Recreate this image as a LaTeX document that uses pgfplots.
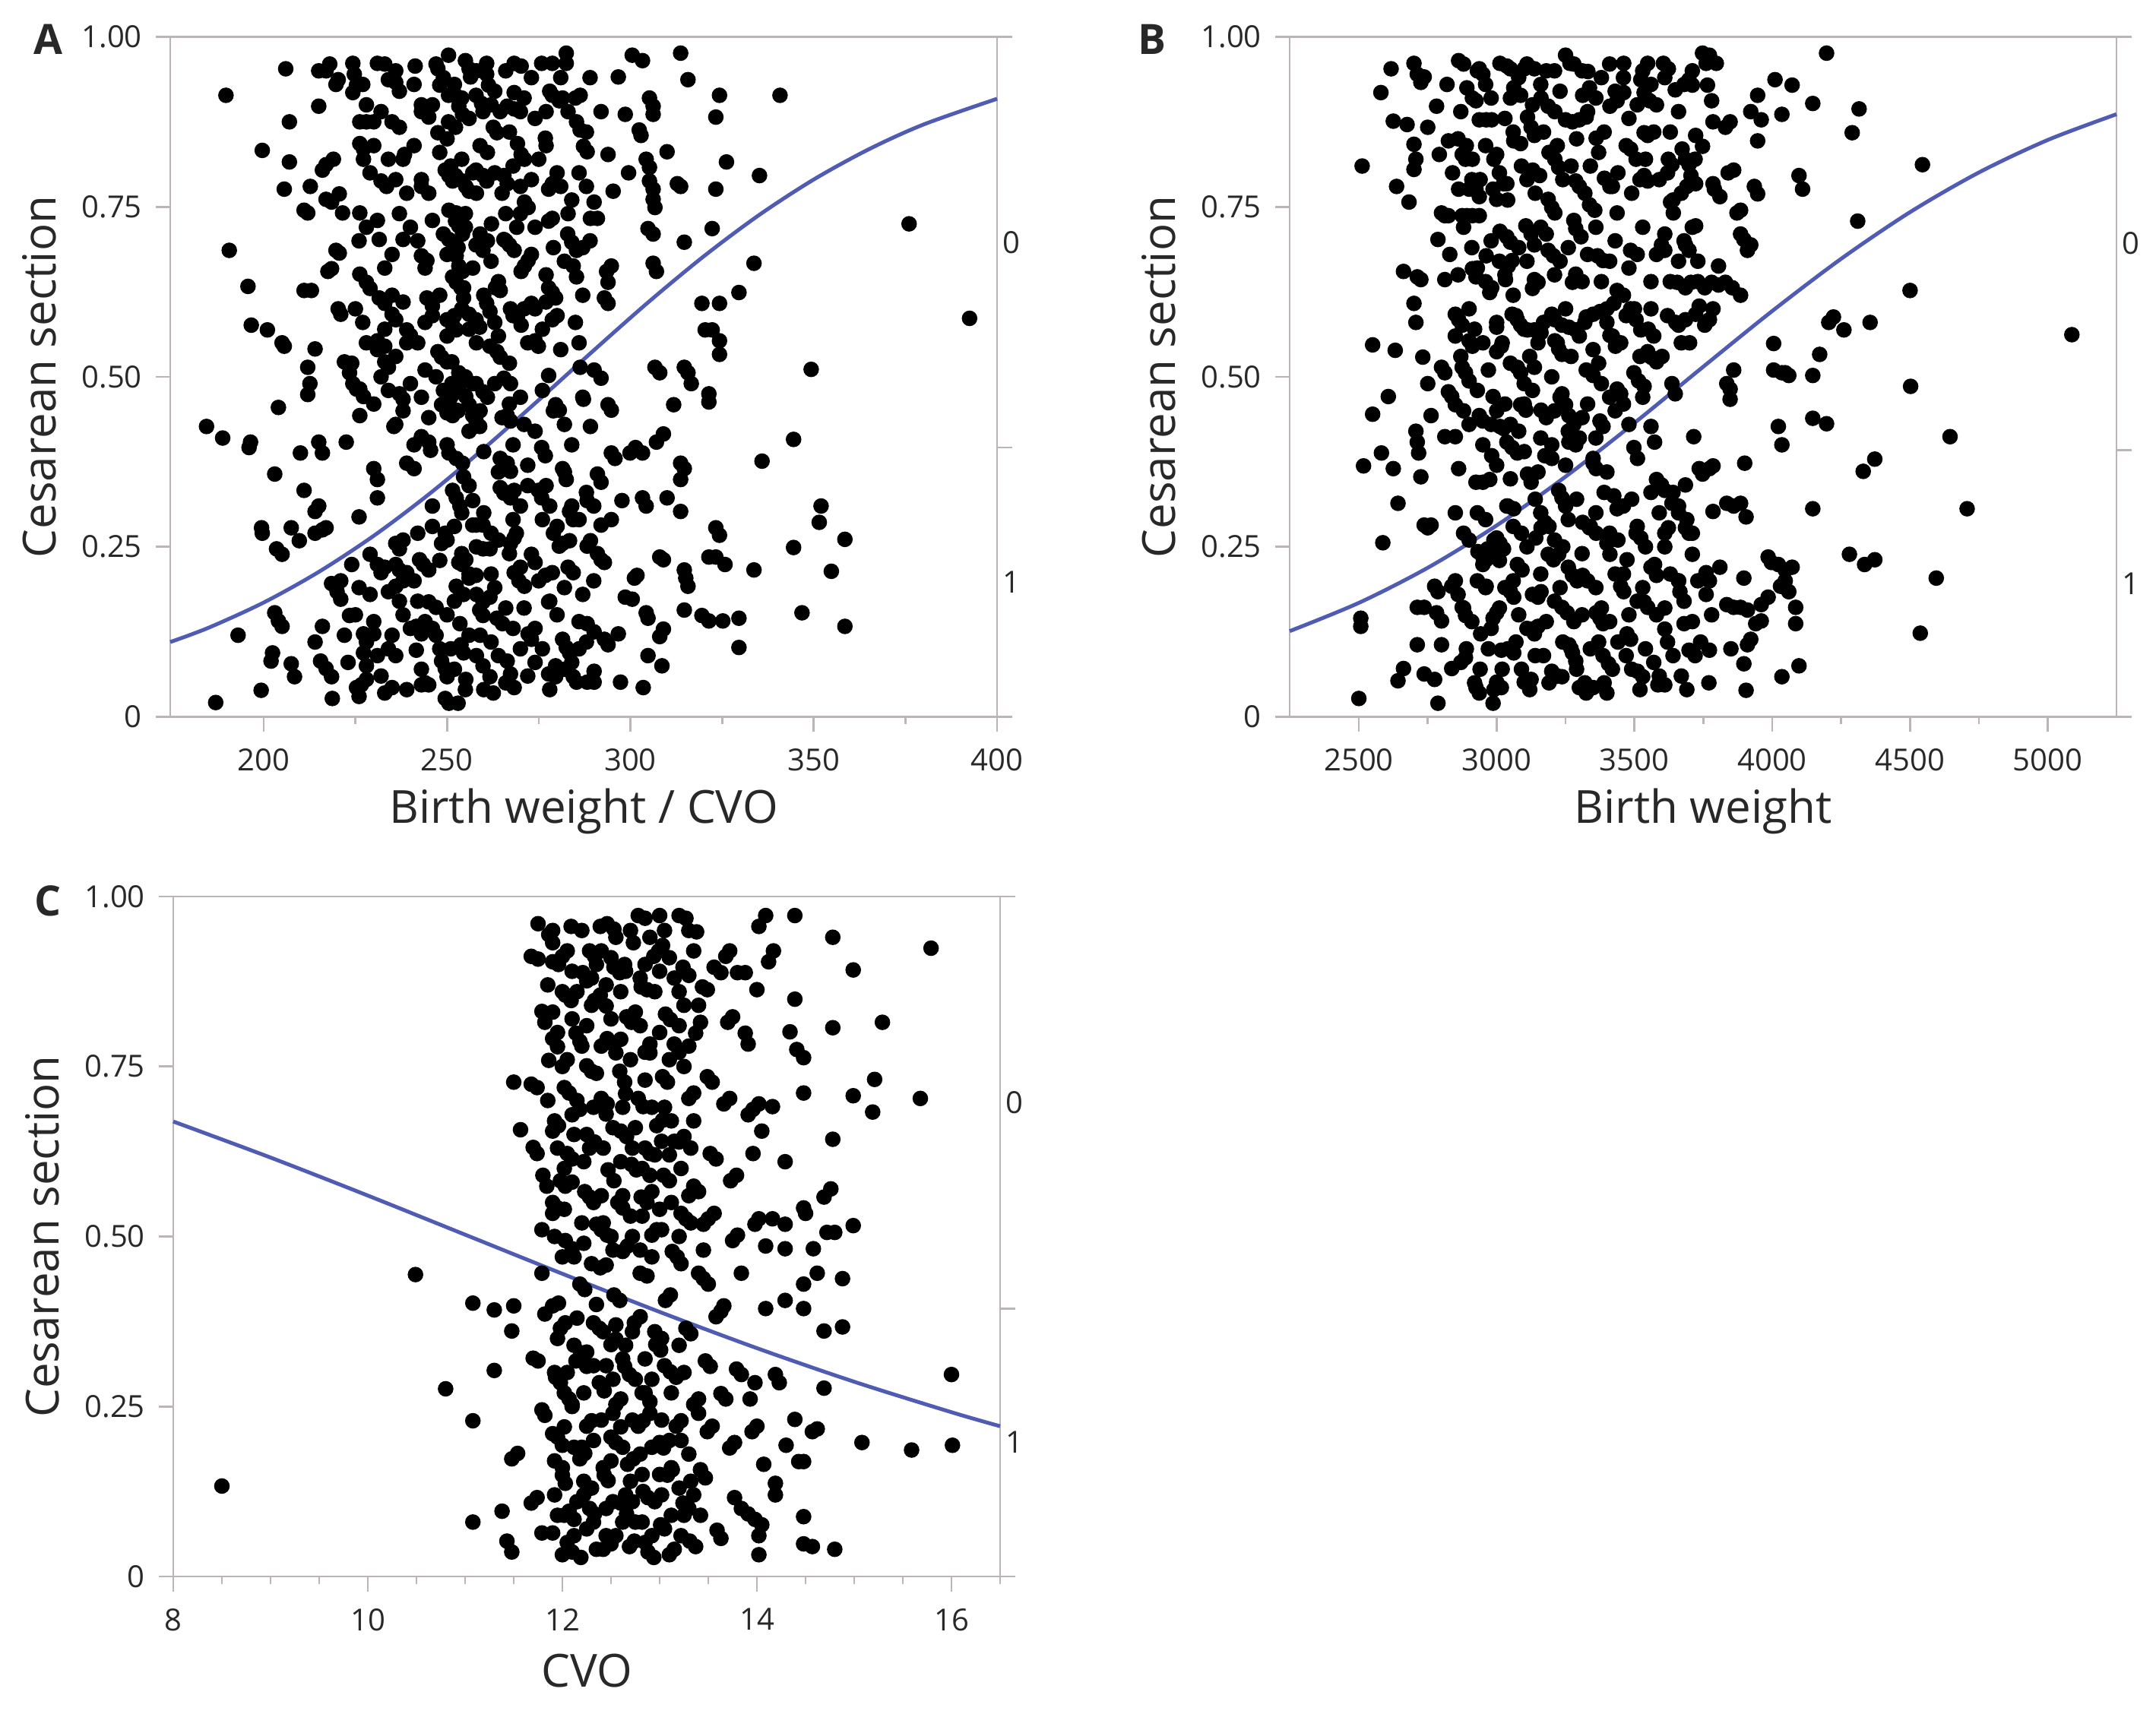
\documentclass[border=0pt]{standalone}
\usepackage{fontspec}
\setmainfont{Open Sans}
\usepackage{pgfplots}
\pgfplotsset{compat=1.18}
\definecolor{axgray}{RGB}{188,181,181}
\definecolor{fitblue}{RGB}{80,92,180}
\definecolor{txt}{RGB}{40,40,40}
\pgfplotsset{
 jmp/.style={
  scale only axis, width=217.6pt, height=179pt,
  anchor=north west,
  ymin=0, ymax=1,
  ytick={0,0.25,0.5,0.75,1}, yticklabels={0,0.25,0.50,0.75,1.00},
  axis line style={draw=axgray, line width=0.55pt},
  every tick/.style={draw=axgray, line width=0.55pt},
  major tick length=3.9pt, minor tick length=1.9pt,
  tick align=outside, xtick pos=bottom, ytick pos=left,
  tick label style={font=\fontsize{8}{9}\selectfont, text=txt},
  xticklabel style={yshift=-1pt},
  scaled x ticks=false,
  ylabel={Cesarean section},
  every axis y label/.style={at={(axis description cs:0,0.5)}, anchor=center, xshift=-34.5pt, rotate=90, font=\fontsize{12}{14}\selectfont, text=txt},
  every axis x label/.style={at={(axis description cs:0.5,0)}, anchor=center, yshift=-24.8pt, font=\fontsize{12}{14}\selectfont, text=txt},
  clip=false,
 },
 dots/.style={only marks, mark=*, mark size=1.85pt, mark options={fill=black, draw=none}},
 fit/.style={no marks, draw=fitblue, line width=1pt, smooth},
}
\newcommand{\rightcat}[1]{%
  \draw[axgray, line width=0.55pt] (rel axis cs:1,0) -- ([xshift=3.9pt]rel axis cs:1,0);
  \draw[axgray, line width=0.55pt] (rel axis cs:1,#1) -- ([xshift=3.9pt]rel axis cs:1,#1);
  \draw[axgray, line width=0.55pt] (rel axis cs:1,1) -- ([xshift=3.9pt]rel axis cs:1,1);
}
\begin{document}
\begin{tikzpicture}
\path[use as bounding box] (0,0) rectangle (567.4pt,-451.2pt);
\node[font=\bfseries\fontsize{11}{13}\selectfont, text=txt] at (12.6pt,-10.4pt) {A};
\node[font=\bfseries\fontsize{11}{13}\selectfont, text=txt] at (303.2pt,-10.4pt) {B};
\node[font=\bfseries\fontsize{11}{13}\selectfont, text=txt] at (12.6pt,-237.2pt) {C};

% ---------------- Panel A ----------------
\begin{axis}[jmp, at={(44.8pt,-9.7pt)}, xmin=174.5, xmax=400,
  xtick={200,250,300,350,400}, xticklabels={200,250,300,350,400},
  minor xtick={225,275,325,375}, xlabel={Birth weight / CVO}]
\addplot[dots] coordinates {
(186.9,0.021)(184.4,0.427)(188.8,0.41)(189.7,0.914)(190.6,0.686)(193,0.12)(195.7,0.633)(196.6,0.576)(196,0.396)(196.4,0.404)(199.6,0.833)(199.4,0.278)(199.6,0.27)(199.3,0.039)(201,0.569)(202,0.082)(202.4,0.094)(203,0.357)(204,0.455)(203.5,0.247)(205,0.239)(205,0.55)(205.6,0.545)(205.6,0.776)(206,0.953)(207,0.875)(207,0.816)(207.5,0.278)(207.5,0.078)(208.4,0.059)(203,0.153)(204,0.141)(205,0.133)(209.7,0.259)(210,0.388)(211,0.745)(212,0.741)(211,0.333)(211,0.627)(213,0.627)(212,0.514)(212.6,0.49)(212,0.474)(212.7,0.78)(214,0.27)(216,0.275)(217,0.278)(214,0.302)(215,0.31)(214,0.541)(214,0.11)(215,0.404)(216,0.388)(215,0.95)(217,0.95)(218,0.96)(216,0.133)(215.5,0.082)(217,0.071)(218.5,0.059)(217.5,0.655)(218.5,0.659)(215,0.898)(216,0.804)(217,0.812)(219,0.82)(217,0.761)(218.5,0.757)(218.5,0.196)(220,0.184)(221,0.173)(218.7,0.027)(219.7,0.93)(220.3,0.937)(220.3,0.6)(221,0.592)(219.7,0.686)(220.6,0.682)(220.6,0.769)(221.5,0.741)(222,0.522)(222.5,0.404)(223.4,0.506)(224.3,0.49)(225.3,0.482)(223.4,0.149)(224,0.224)(224.3,0.961)(224.7,0.945)(225.3,0.929)(224.3,0.918)(225.3,0.043)(226.6,0.047)(228,0.055)(226,0.294)(226.2,0.875)(228,0.875)(230,0.875)(226.2,0.843)(227.2,0.835)(227.2,0.82)(226.2,0.741)(226.2,0.651)(228,0.639)(226.2,0.482)(227.2,0.471)(226.2,0.443)(227.2,0.122)(227.2,0.094)(228,0.075)(229,0.239)(231,0.224)(232,0.212)(230,0.365)(231,0.349)(231,0.322)(230,0.122)(231,0.961)(231,0.553)(233,0.545)(231.5,0.616)(233,0.608)(232,0.788)(233.5,0.78)(231.5,0.702)(233,0.522)(234,0.514)(233,0.035)(235,0.043)(234,0.184)(236,0.192)(238,0.2)(234,0.937)(236,0.933)(235,0.875)(237,0.867)(235,0.592)(236,0.584)(235.5,0.427)(236,0.255)(237,0.247)(236,0.224)(237,0.216)(239,0.212)(237,0.475)(238,0.467)(238,0.82)(238.4,0.827)(238,0.702)(239,0.569)(240,0.561)(239,0.373)(241,0.365)(241.3,0.957)(241.6,0.133)(243,0.122)(241.6,0.098)(242.5,0.231)(243.5,0.224)(245,0.216)(243,0.678)(244.5,0.671)(243,0.89)(245,0.882)(243,0.78)(243,0.412)(245,0.404)(245.5,0.392)(243,0.047)(245,0.047)(244.5,0.616)(246,0.604)(245,0.169)(247,0.161)(247.5,0.953)(248,0.929)(247.5,0.859)(247.5,0.537)(248.5,0.529)(250,0.522)(248.5,0.459)(250,0.447)(248.5,0.255)(249.5,0.27)(248.5,0.082)(249.5,0.071)(250,0.059)(249.5,0.027)(250.5,0.02)(253,0.02)(249.5,0.804)(250.5,0.796)(251.5,0.788)(250.5,0.745)(252.5,0.741)(253.5,0.737)(250.5,0.702)(252.5,0.694)(252.5,0.678)(251.5,0.647)(252.5,0.639)(254.5,0.631)(250.5,0.388)(252.5,0.38)(251.5,0.333)(252.5,0.322)(253.5,0.31)(252.5,0.192)(254.5,0.18)(253.5,0.137)(250,0.584)(251.5,0.576)(252.5,0.569)(250,0.451)(251.5,0.443)(252.5,0.451)(250.4,0.973)(255,0.965)(250.4,0.914)(252.3,0.914)(253.2,0.898)(254.2,0.886)(250.4,0.875)(252.3,0.867)(251.3,0.522)(253.2,0.506)(251.3,0.49)(253.2,0.482)(255.1,0.471)(256,0.459)(252.3,0.796)(254.2,0.788)(255.1,0.78)(256,0.773)(252.3,0.729)(253.2,0.722)(254.2,0.71)(253.2,0.663)(254.2,0.655)(253.8,0.631)(254.5,0.616)(253.2,0.227)(254.2,0.224)(255.1,0.231)(253.8,0.106)(254.5,0.094)(254.2,0.373)(254.5,0.353)(255.1,0.055)(256,0.953)(256.4,0.941)(256,0.592)(257.9,0.584)(258.9,0.573)(256,0.204)(257.9,0.208)(257,0.443)(257.9,0.435)(258.9,0.427)(257,0.318)(257,0.282)(257.9,0.282)(259.8,0.282)(257.9,0.914)(259.4,0.902)(259.8,0.89)(257.9,0.804)(259.8,0.796)(260.8,0.788)(257.9,0.694)(259.8,0.686)(257.9,0.49)(259.8,0.478)(258.9,0.157)(259.8,0.149)(259.8,0.247)(261.7,0.247)(259.8,0.075)(261.7,0.059)(259.8,0.169)(261.7,0.176)(260.8,0.961)(260.8,0.945)(261.3,0.929)(260.8,0.608)(261.7,0.596)(261.7,0.545)(263.6,0.537)(264.5,0.529)(262.1,0.725)(262.6,0.867)(263.6,0.859)(262.6,0.035)(263.2,0.631)(264.5,0.627)(263.6,0.145)(265.1,0.137)(264.5,0.89)(266.4,0.898)(268.3,0.894)(268.3,0.918)(264.5,0.38)(266.4,0.373)(267.3,0.361)(264.5,0.337)(265.5,0.329)(267.3,0.322)(268.3,0.333)(265.5,0.498)(267.3,0.49)(265.5,0.796)(266.4,0.784)(265.5,0.702)(267,0.694)(268.3,0.686)(266.4,0.443)(267.3,0.435)(266.4,0.082)(267.3,0.063)(268.3,0.043)(267.3,0.255)(268.3,0.263)(268.9,0.27)(267.3,0.6)(269.2,0.588)(270.2,0.576)(268.3,0.961)(270.2,0.957)(268.3,0.212)(269.6,0.2)(271.1,0.192)(269.2,0.843)(270.2,0.827)(271.1,0.82)(270.2,0.655)(271.1,0.663)(272.1,0.671)(271.1,0.757)(272.1,0.749)(272.1,0.122)(273,0.114)(273,0.608)(274,0.6)(273,0.239)(274,0.227)(274,0.553)(274.9,0.545)(274.9,0.333)(275.8,0.322)(275.8,0.961)(278.7,0.961)(275.8,0.396)(276.8,0.384)(276.8,0.208)(278.7,0.212)(276.8,0.851)(277.7,0.169)(277.7,0.063)(279.6,0.059)(279.6,0.075)(277.7,0.729)(278.7,0.733)(277.7,0.631)(278.7,0.624)(279.6,0.616)(277.7,0.502)(278.7,0.914)(280.6,0.906)(281.5,0.91)(278.7,0.784)(277.7,0.776)(278.7,0.584)(279.6,0.459)(280.6,0.451)(280.6,0.251)(281.5,0.255)(283.4,0.259)(281.5,0.365)(282.5,0.349)(281.5,0.114)(282.5,0.102)(283.4,0.094)(282.5,0.976)(282.5,0.961)(282.9,0.71)(284,0.698)(285.3,0.686)(283.4,0.302)(284.4,0.29)(284.4,0.663)(285.3,0.647)(284.4,0.059)(285.3,0.051)(288.2,0.051)(284.4,0.212)(285.3,0.875)(286.3,0.863)(286.3,0.914)(286.3,0.514)(287.2,0.839)(288.2,0.831)(287.2,0.467)(288.2,0.251)(289.1,0.259)(288.2,0.318)(288.2,0.137)(290.1,0.125)(289.1,0.427)(289.1,0.733)(290.1,0.757)(291,0.733)(290.1,0.51)(292,0.498)(290.1,0.067)(290.1,0.051)(291,0.357)(292,0.345)(292,0.89)(292,0.231)(292.9,0.227)(292,0.282)(292.9,0.616)(293.9,0.608)(293.5,0.655)(294.8,0.663)(293.9,0.639)(292.9,0.114)(293.9,0.106)(293.9,0.827)(293.9,0.459)(294.8,0.451)(294.8,0.388)(295.8,0.38)(294.8,0.29)(295.3,0.773)(296.7,0.941)(296.7,0.122)(297.3,0.051)(297.7,0.318)(298.6,0.886)(298.6,0.176)(300.5,0.173)(299.5,0.8)(299.9,0.388)(301.4,0.396)(303.3,0.388)(300.5,0.973)(303.3,0.965)(301.1,0.204)(301.8,0.208)(302.4,0.863)(302.9,0.855)(303.5,0.043)(303.3,0.322)(304.3,0.31)(304.3,0.153)(304.8,0.145)(304.3,0.82)(305.2,0.808)(304.8,0.09)(304.8,0.718)(306.2,0.71)(305.2,0.91)(306.2,0.898)(306.2,0.886)(305.2,0.788)(306.2,0.776)(306.2,0.761)(306.7,0.749)(306.2,0.667)(307.1,0.655)(306.7,0.514)(308,0.506)(307.1,0.404)(309,0.416)(308,0.118)(309,0.129)(308.6,0.075)(308,0.235)(309,0.231)(310,0.831)(310,0.322)(311.8,0.459)(312.8,0.784)(313.7,0.78)(313.7,0.976)(314.7,0.698)(314.7,0.514)(315.7,0.506)(313.7,0.373)(314.7,0.365)(313.7,0.349)(313.7,0.302)(314.7,0.216)(315.1,0.204)(315.7,0.192)(314.7,0.157)(315.7,0.937)(316.6,0.49)(319.5,0.608)(319.5,0.149)(321.4,0.141)(320.4,0.569)(322.3,0.569)(321.4,0.475)(321.4,0.463)(321.4,0.235)(323.3,0.235)(322.3,0.718)(323.3,0.776)(323.3,0.882)(324.3,0.914)(323.3,0.278)(324.3,0.267)(324.3,0.608)(324.3,0.553)(324.3,0.533)(325.2,0.141)(325.8,0.224)(326.2,0.816)(329.6,0.145)(329.6,0.102)(329.6,0.624)(333.7,0.216)(333.7,0.667)(335.2,0.796)(335.9,0.376)(340.8,0.914)(344.5,0.408)(344.5,0.249)(346.8,0.153)(349.3,0.511)(351.5,0.286)(352,0.31)(354.8,0.214)(358.5,0.261)(358.5,0.133)(376,0.725)(392.5,0.586)
(228,0.90)(233,0.96)(237,0.92)(243,0.90)(247,0.96)(252,0.93)(256,0.88)(259,0.84)(262,0.90)(267,0.86)(271,0.91)(274,0.88)(278,0.92)(283,0.89)(288,0.86)
(229,0.80)(234,0.82)(239,0.77)(243,0.79)(248,0.83)(251,0.81)(255,0.74)(258,0.77)(263,0.80)(266,0.74)(270,0.78)(275,0.82)(281,0.78)(286,0.80)(289,0.70)
(226,0.70)(231,0.73)(235,0.68)(240,0.72)(244,0.66)(249,0.71)(253,0.69)(257,0.66)(261,0.70)(264,0.64)(269,0.72)(273,0.68)(277,0.65)(282,0.67)(287,0.62)
(225,0.60)(229,0.63)(233,0.57)(238,0.61)(242,0.55)(246,0.59)(250,0.56)(254,0.60)(258,0.55)(263,0.58)(267,0.52)(271,0.60)(276,0.57)(281,0.54)(285,0.58)
(224,0.52)(228,0.55)(232,0.50)(236,0.53)(240,0.49)(244,0.51)(249,0.48)(253,0.45)(257,0.49)(261,0.47)(265,0.44)(270,0.47)(274,0.42)(279,0.45)(284,0.40)
(236,0.43)(241,0.40)(245,0.44)(250,0.40)(256,0.42)(260,0.39)(264,0.36)(268,0.40)(272,0.37)(277,0.34)(282,0.36)(288,0.33)
(221,0.20)(225,0.15)(229,0.18)(233,0.22)(237,0.17)(241,0.20)(244,0.14)(248,0.23)(252,0.17)(256,0.21)(259,0.12)(263,0.19)(267,0.24)(271,0.16)(275,0.20)(279,0.27)(283,0.22)(287,0.18)(291,0.24)
(223,0.08)(228,0.11)(232,0.06)(236,0.09)(240,0.13)(244,0.05)(248,0.10)(252,0.07)(256,0.12)(260,0.04)(264,0.09)(268,0.13)(272,0.06)(276,0.10)(280,0.15)(284,0.08)(288,0.11)
(238,0.26)(246,0.28)(254,0.30)(262,0.27)(270,0.31)(276,0.29)(284,0.31)(266,0.33)(258,0.25)(250,0.26)
(227,0.93)(232,0.89)(236,0.95)(241,0.93)(246,0.90)(249,0.94)(254,0.91)(258,0.95)(263,0.92)(266,0.95)(270,0.89)(273,0.94)(277,0.89)(281,0.94)(285,0.91)(289,0.94)
(230,0.84)(236,0.79)(241,0.84)(245,0.77)(250,0.85)(254,0.82)(257,0.80)(261,0.83)(265,0.77)(268,0.81)(273,0.79)(277,0.84)(280,0.80)(284,0.76)(288,0.78)
(228,0.72)(233,0.66)(237,0.74)(242,0.70)(246,0.73)(250,0.68)(255,0.72)(259,0.71)(262,0.67)(266,0.70)(270,0.74)(274,0.72)(279,0.69)(283,0.74)(287,0.69)
(227,0.58)(231,0.54)(235,0.62)(239,0.55)(244,0.58)(248,0.62)(252,0.59)(256,0.57)(260,0.62)(264,0.56)(268,0.59)(272,0.55)(277,0.61)(280,0.59)(286,0.55)
(230,0.46)(234,0.48)(238,0.45)(243,0.47)(247,0.50)(251,0.47)(255,0.50)(259,0.45)(263,0.49)(267,0.46)(271,0.43)(276,0.48)(282,0.43)(287,0.47)
(222,0.12)(226,0.19)(230,0.14)(234,0.10)(238,0.15)(242,0.17)(246,0.13)(250,0.15)(254,0.24)(258,0.18)(262,0.21)(266,0.16)(270,0.22)(274,0.13)(278,0.17)(282,0.19)(286,0.14)(290,0.20)
(226,0.03)(231,0.09)(235,0.12)(239,0.04)(243,0.07)(247,0.12)(251,0.10)(255,0.04)(258,0.09)(262,0.11)(266,0.05)(270,0.10)(274,0.08)(278,0.04)(282,0.07)(286,0.10)
(242,0.27)(246,0.31)(252,0.28)(256,0.34)(260,0.30)(264,0.26)(268,0.29)(272,0.34)(278,0.31)(280,0.28)(286,0.29)(290,0.31)
};
\addplot[fit] coordinates {
(174.5,0.110)(185,0.1311)(200,0.1681)(215,0.2131)(230,0.2662)(245,0.3271)(260,0.3944)(275,0.4659)(290,0.5389)(305,0.6103)(320,0.6772)(335,0.7376)(350,0.7902)(365,0.8346)(380,0.8712)(400,0.9089)
};
\rightcat{0.396}
\node[anchor=west, inner sep=0pt, font=\fontsize{8}{9}\selectfont, text=txt] at ([xshift=1.2pt]rel axis cs:1,0.698) {0};
\node[anchor=west, inner sep=0pt, font=\fontsize{8}{9}\selectfont, text=txt] at ([xshift=1.2pt]rel axis cs:1,0.198) {1};
\end{axis}

% ---------------- Panel B ----------------
\begin{axis}[jmp, at={(339.4pt,-9.7pt)}, xmin=2249, xmax=5249,
  xtick={2500,3000,3500,4000,4500,5000}, xticklabels={2500,3000,3500,4000,4500,5000},
  minor xtick={2750,3250,3750,4250,4750}, xlabel={Birth weight}]
\addplot[dots] coordinates {
(2500,0.027)(2507,0.145)(2507,0.133)(2512,0.81)(2517,0.369)(2550,0.547)(2550,0.445)(2580,0.918)(2587,0.256)(2582,0.388)(2607,0.471)(2617,0.953)(2625,0.876)(2625,0.365)(2632,0.539)(2637,0.78)(2642,0.314)(2642,0.053)(2662,0.655)(2662,0.071)(2675,0.871)(2682,0.757)(2700,0.961)(2712,0.945)(2700,0.842)(2707,0.82)(2700,0.608)(2707,0.58)(2700,0.805)(2707,0.42)(2712,0.404)(2717,0.388)(2712,0.106)(2712,0.161)(2737,0.161)(2712,0.647)(2725,0.643)(2725,0.933)(2737,0.941)(2725,0.353)(2732,0.529)(2737,0.282)(2750,0.278)(2762,0.282)(2737,0.063)(2750,0.867)(2750,0.49)(2762,0.443)(2775,0.192)(2787,0.184)(2775,0.055)(2782,0.898)(2782,0.153)(2800,0.141)(2787,0.702)(2787,0.02)(2792,0.827)(2800,0.741)(2812,0.737)(2825,0.737)(2800,0.514)(2812,0.506)(2800,0.106)(2812,0.643)(2812,0.412)(2825,0.847)(2825,0.478)(2837,0.471)(2850,0.459)(2837,0.192)(2850,0.2)(2837,0.071)(2850,0.592)(2862,0.584)(2875,0.576)(2850,0.412)(2862,0.965)(2862,0.776)(2862,0.365)(2875,0.737)(2892,0.737)(2912,0.737)(2937,0.737)(2875,0.827)(2887,0.82)(2912,0.82)(2875,0.161)(2887,0.149)(2875,0.514)(2887,0.506)(2900,0.494)(2887,0.087)(2892,0.925)(2912,0.91)(2925,0.906)(2900,0.776)(2925,0.776)(2937,0.765)(2900,0.553)(2912,0.545)(2912,0.659)(2925,0.647)(2925,0.345)(2950,0.345)(2975,0.349)(2925,0.043)(2937,0.035)(2932,0.243)(2950,0.235)(2967,0.247)(2937,0.953)(2950,0.945)(2937,0.878)(2962,0.878)(2982,0.878)(2937,0.443)(2950,0.435)(2942,0.122)(2950,0.224)(2962,0.231)(2975,0.239)(2987,0.247)(2962,0.678)(2962,0.192)(2975,0.624)(2982,0.631)(2982,0.384)(2987,0.776)(3000,0.761)(2987,0.471)(2987,0.145)(3000,0.153)(2987,0.02)(3000,0.573)(3000,0.537)(3017,0.545)(3000,0.827)(3000,0.263)(3012,0.255)(3025,0.247)(3000,0.051)(3017,0.043)(3012,0.961)(3037,0.957)(3050,0.953)(3012,0.714)(3037,0.706)(3050,0.698)(3012,0.427)(3025,0.424)(3017,0.098)(3025,0.784)(3037,0.784)(3032,0.643)(3042,0.663)(3056,0.671)(3037,0.404)(3056,0.396)(3075,0.388)(3037,0.31)(3062,0.306)(3050,0.184)(3062,0.176)(3056,0.592)(3075,0.584)(3087,0.576)(3062,0.925)(3087,0.914)(3062,0.847)(3087,0.843)(3062,0.094)(3075,0.514)(3087,0.506)(3100,0.49)(3075,0.224)(3092,0.216)(3087,0.459)(3106,0.451)(3100,0.953)(3137,0.953)(3100,0.051)(3125,0.055)(3106,0.722)(3125,0.71)(3137,0.694)(3112,0.882)(3125,0.867)(3137,0.855)(3112,0.569)(3137,0.569)(3161,0.565)(3112,0.357)(3125,0.345)(3125,0.129)(3137,0.122)(3150,0.133)(3131,0.804)(3156,0.796)(3137,0.643)(3150,0.639)(3137,0.514)(3142,0.263)(3161,0.278)(3175,0.286)(3150,0.176)(3161,0.184)(3161,0.451)(3161,0.91)(3187,0.898)(3211,0.89)(3175,0.384)(3200,0.38)(3187,0.761)(3200,0.749)(3211,0.741)(3187,0.686)(3206,0.678)(3187,0.239)(3206,0.231)(3225,0.239)(3200,0.592)(3211,0.584)(3237,0.576)(3262,0.573)(3287,0.569)(3200,0.067)(3211,0.059)(3237,0.059)(3211,0.82)(3225,0.808)(3211,0.553)(3225,0.541)(3237,0.533)(3225,0.333)(3237,0.322)(3250,0.31)(3237,0.161)(3256,0.153)(3237,0.475)(3250,0.459)(3262,0.443)(3250,0.973)(3266,0.961)(3250,0.878)(3275,0.875)(3300,0.878)(3325,0.882)(3262,0.106)(3275,0.094)(3287,0.082)(3262,0.404)(3287,0.4)(3275,0.639)(3287,0.651)(3275,0.208)(3292,0.2)(3312,0.208)(3287,0.788)(3300,0.78)(3287,0.718)(3306,0.706)(3300,0.043)(3325,0.035)(3350,0.043)(3312,0.914)(3337,0.925)(3312,0.286)(3337,0.278)(3361,0.27)(3325,0.588)(3350,0.592)(3375,0.596)(3400,0.6)(3325,0.51)(3350,0.502)(3331,0.949)(3337,0.753)(3356,0.745)(3350,0.373)(3361,0.365)(3361,0.153)(3375,0.145)(3386,0.137)(3361,0.851)(3366,0.678)(3386,0.671)(3375,0.435)(3386,0.427)(3386,0.09)(3406,0.078)(3391,0.792)(3411,0.78)(3400,0.255)(3411,0.239)(3400,0.035)(3411,0.898)(3437,0.906)(3461,0.918)(3411,0.561)(3431,0.545)(3425,0.608)(3437,0.627)(3425,0.325)(3437,0.306)(3437,0.741)(3437,0.482)(3450,0.475)(3450,0.192)(3461,0.184)(3461,0.961)(3473,0.122)(3486,0.114)(3473,0.231)(3486,0.835)(3506,0.82)(3486,0.686)(3486,0.6)(3506,0.584)(3523,0.569)(3498,0.506)(3515,0.494)(3535,0.486)(3498,0.396)(3511,0.38)(3506,0.27)(3523,0.263)(3511,0.067)(3530,0.059)(3523,0.937)(3535,0.918)(3555,0.906)(3535,0.859)(3548,0.855)(3535,0.796)(3548,0.788)(3535,0.169)(3548,0.161)(3548,0.961)(3548,0.537)(3560,0.529)(3580,0.522)(3560,0.6)(3560,0.427)(3573,0.404)(3573,0.224)(3580,0.208)(3580,0.349)(3598,0.341)(3610,0.333)(3585,0.047)(3610,0.047)(3598,0.694)(3610,0.686)(3605,0.961)(3623,0.953)(3610,0.27)(3623,0.278)(3610,0.129)(3623,0.82)(3636,0.812)(3631,0.757)(3641,0.741)(3636,0.49)(3648,0.475)(3636,0.314)(3660,0.31)(3648,0.922)(3655,0.639)(3660,0.2)(3665,0.184)(3660,0.576)(3685,0.584)(3673,0.835)(3685,0.82)(3698,0.812)(3680,0.137)(3685,0.694)(3698,0.686)(3685,0.631)(3705,0.639)(3685,0.278)(3698,0.27)(3685,0.341)(3698,0.937)(3710,0.929)(3698,0.098)(3705,0.796)(3722,0.784)(3710,0.239)(3715,0.412)(3722,0.855)(3747,0.839)(3722,0.722)(3722,0.592)(3735,0.604)(3730,0.64)(3755,0.631)(3780,0.639)(3805,0.635)(3830,0.639)(3855,0.631)(3735,0.365)(3747,0.357)(3772,0.365)(3785,0.369)(3747,0.976)(3772,0.973)(3755,0.576)(3772,0.584)(3785,0.6)(3760,0.212)(3772,0.2)(3760,0.961)(3765,0.929)(3780,0.906)(3785,0.875)(3772,0.098)(3785,0.302)(3785,0.784)(3790,0.776)(3797,0.961)(3805,0.663)(3810,0.765)(3830,0.867)(3847,0.875)(3835,0.49)(3847,0.482)(3835,0.314)(3860,0.31)(3885,0.314)(3835,0.165)(3860,0.161)(3885,0.161)(3910,0.157)(3840,0.8)(3847,0.467)(3860,0.804)(3860,0.51)(3872,0.741)(3885,0.745)(3885,0.71)(3897,0.702)(3885,0.62)(3897,0.078)(3897,0.204)(3900,0.373)(3905,0.039)(3905,0.294)(3910,0.106)(3922,0.114)(3910,0.686)(3922,0.694)(3922,0.89)(3935,0.78)(3947,0.769)(3940,0.137)(3960,0.141)(3947,0.914)(3947,0.847)(3960,0.878)(3960,0.165)(3985,0.176)(3985,0.235)(3997,0.227)(4022,0.224)(4047,0.216)(4005,0.549)(4005,0.51)(4035,0.506)(4010,0.937)(4022,0.427)(4035,0.4)(4030,0.192)(4047,0.2)(4060,0.184)(4035,0.886)(4035,0.059)(4047,0.506)(4060,0.502)(4072,0.929)(4072,0.22)(4085,0.161)(4085,0.137)(4097,0.796)(4110,0.776)(4097,0.075)(4147,0.902)(4147,0.502)(4147,0.439)(4197,0.431)(4147,0.306)(4172,0.533)(4197,0.976)(4205,0.58)(4222,0.588)(4260,0.569)(4280,0.239)(4290,0.859)(4310,0.729)(4315,0.894)(4330,0.361)(4335,0.224)(4372,0.231)(4355,0.58)(4372,0.379)(4500,0.627)(4502,0.486)(4537,0.123)(4545,0.812)(4595,0.204)(4645,0.412)(4707,0.306)(5087,0.562)
(2820,0.93)(2870,0.89)(2930,0.95)(2980,0.91)(3030,0.88)(3080,0.94)(3130,0.90)(3180,0.95)(3230,0.92)(3280,0.96)(3330,0.89)(3380,0.94)(3430,0.92)(3480,0.88)(3530,0.95)(3580,0.90)(3630,0.86)(3680,0.93)
(2840,0.80)(2890,0.84)(2940,0.79)(2990,0.82)(3040,0.76)(3090,0.81)(3140,0.77)(3190,0.83)(3240,0.79)(3290,0.85)(3340,0.81)(3390,0.86)(3440,0.80)(3490,0.77)(3540,0.82)(3590,0.79)(3640,0.76)(3690,0.78)
(2830,0.68)(2880,0.72)(2930,0.66)(2980,0.70)(3030,0.65)(3080,0.69)(3130,0.63)(3180,0.71)(3230,0.67)(3280,0.73)(3330,0.68)(3380,0.64)(3430,0.70)(3480,0.66)(3530,0.72)(3580,0.68)(3630,0.64)(3680,0.70)(3730,0.67)
(2850,0.56)(2900,0.60)(2950,0.55)(3000,0.58)(3050,0.52)(3100,0.57)(3150,0.55)(3200,0.50)(3250,0.60)(3300,0.56)(3350,0.54)(3400,0.58)(3450,0.55)(3500,0.60)(3550,0.57)(3600,0.53)(3650,0.58)(3700,0.55)
(2880,0.45)(2930,0.48)(2980,0.43)(3030,0.46)(3080,0.42)(3130,0.48)(3180,0.44)(3230,0.47)(3280,0.43)(3330,0.46)(3380,0.49)(3430,0.45)(3480,0.43)(3530,0.47)
(3000,0.37)(3050,0.35)(3100,0.39)(3150,0.36)(3200,0.40)(3250,0.37)(3300,0.41)(3350,0.38)(3400,0.36)
(2850,0.30)(2900,0.26)(2960,0.29)(3010,0.23)(3060,0.28)(3110,0.25)(3160,0.30)(3210,0.26)(3260,0.29)(3310,0.24)(3360,0.30)(3410,0.27)(3460,0.31)(3510,0.28)(3560,0.33)(3610,0.25)(3660,0.30)(3710,0.27)
(2860,0.18)(2910,0.14)(2960,0.19)(3010,0.16)(3060,0.20)(3110,0.13)(3160,0.21)(3210,0.17)(3260,0.22)(3310,0.15)(3360,0.19)(3410,0.14)(3460,0.21)(3510,0.17)(3560,0.22)(3610,0.16)(3660,0.20)(3710,0.14)(3760,0.18)(3810,0.22)
(2870,0.08)(2920,0.05)(2970,0.10)(3020,0.07)(3070,0.11)(3120,0.04)(3170,0.09)(3220,0.06)(3270,0.10)(3320,0.05)(3370,0.11)(3420,0.07)(3470,0.09)(3520,0.04)(3570,0.08)(3620,0.11)(3670,0.06)(3720,0.09)(3770,0.05)(3850,0.10)
(2880,0.96)(2960,0.93)(3050,0.91)(3110,0.96)(3160,0.93)(3210,0.95)(3310,0.95)(3360,0.91)(3410,0.96)(3460,0.94)(3510,0.90)(3560,0.93)(3610,0.94)(3660,0.89)(3710,0.95)
(2860,0.85)(2910,0.79)(2960,0.84)(3010,0.80)(3060,0.86)(3110,0.79)(3170,0.86)(3220,0.84)(3270,0.81)(3320,0.77)(3370,0.83)(3420,0.78)(3470,0.84)(3520,0.79)(3570,0.86)(3620,0.80)(3670,0.77)(3720,0.82)
(2860,0.65)(2910,0.69)(2960,0.64)(3010,0.67)(3060,0.62)(3110,0.67)(3160,0.72)(3210,0.65)(3260,0.69)(3310,0.64)(3360,0.72)(3410,0.67)(3460,0.62)(3510,0.68)(3560,0.64)(3610,0.71)(3660,0.67)(3710,0.72)
(2870,0.53)(2920,0.57)(2970,0.51)(3020,0.55)(3070,0.59)(3120,0.53)(3170,0.58)(3220,0.55)(3270,0.53)(3320,0.58)(3370,0.52)(3420,0.56)(3470,0.59)(3520,0.53)(3570,0.56)(3620,0.59)(3670,0.55)
(2900,0.43)(2950,0.40)(3000,0.45)(3050,0.43)(3100,0.46)(3160,0.41)(3210,0.45)(3260,0.42)(3310,0.44)(3360,0.41)(3410,0.47)(3460,0.46)
(2880,0.27)(2930,0.30)(2990,0.26)(3040,0.31)(3090,0.27)(3140,0.32)(3190,0.28)(3240,0.25)(3290,0.32)(3340,0.28)(3390,0.33)(3440,0.26)(3490,0.32)(3540,0.25)(3590,0.30)(3640,0.33)(3690,0.29)
(2880,0.16)(2930,0.20)(2980,0.13)(3030,0.19)(3080,0.15)(3130,0.18)(3180,0.14)(3230,0.19)(3280,0.14)(3330,0.20)(3380,0.16)(3430,0.21)(3480,0.15)(3530,0.19)(3580,0.15)(3630,0.21)(3680,0.17)(3730,0.20)(3780,0.15)
(2890,0.10)(2940,0.07)(2990,0.04)(3040,0.10)(3090,0.07)(3140,0.09)(3190,0.05)(3240,0.11)(3290,0.07)(3340,0.10)(3390,0.05)(3440,0.11)(3490,0.07)(3540,0.10)(3590,0.06)(3640,0.09)(3690,0.04)(3740,0.11)
};
\addplot[fit] coordinates {
(2249,0.1260)(2500,0.1676)(2750,0.2192)(3000,0.2814)(3250,0.3532)(3500,0.4322)(3750,0.5150)(4000,0.5968)(4250,0.6736)(4500,0.7422)(4750,0.8006)(5000,0.8484)(5249,0.8862)
};
\rightcat{0.392}
\node[anchor=west, inner sep=0pt, font=\fontsize{8}{9}\selectfont, text=txt] at ([xshift=1.2pt]rel axis cs:1,0.696) {0};
\node[anchor=west, inner sep=0pt, font=\fontsize{8}{9}\selectfont, text=txt] at ([xshift=1.2pt]rel axis cs:1,0.196) {1};
\end{axis}

% ---------------- Panel C ----------------
\begin{axis}[jmp, at={(45.6pt,-236pt)}, xmin=8, xmax=16.5,
  xtick={8,10,12,14,16}, xticklabels={8,10,12,14,16},
  minor xtick={8.5,9,9.5,10.5,11,11.5,12.5,13,13.5,14.5,15,15.5,16.5}, xlabel={CVO}]
\addplot[dots] coordinates {
(8.5,0.133)(10.49,0.444)(10.8,0.276)(11.08,0.402)(11.08,0.229)(11.08,0.08)(11.3,0.392)(11.5,0.398)(11.3,0.303)(11.38,0.096)(11.43,0.052)(11.48,0.036)(11.48,0.361)(11.48,0.173)(11.54,0.181)(11.5,0.727)(11.57,0.657)(11.68,0.912)(11.75,0.908)(11.68,0.724)(11.74,0.719)(11.7,0.631)(11.74,0.622)(11.68,0.108)(11.74,0.116)(11.7,0.321)(11.75,0.317)(11.75,0.96)(11.79,0.831)(11.82,0.815)(11.79,0.51)(11.79,0.446)(11.79,0.245)(11.82,0.237)(11.79,0.064)(11.9,0.064)(11.8,0.59)(11.84,0.574)(11.82,0.386)(11.9,0.398)(11.96,0.402)(11.86,0.944)(11.9,0.932)(11.86,0.759)(11.9,0.904)(11.96,0.9)(12,0.912)(11.9,0.791)(11.95,0.779)(11.9,0.534)(11.95,0.542)(11.9,0.655)(11.96,0.663)(11.93,0.293)(11.98,0.285)(11.95,0.205)(12,0.193)(11.98,0.582)(12.03,0.574)(11.98,0.365)(12.03,0.373)(12,0.149)(12.03,0.137)(12,0.032)(12.1,0.036)(12.19,0.028)(12.02,0.719)(12.07,0.711)(12.03,0.855)(12.09,0.847)(12.03,0.494)(12.1,0.482)(12.05,0.622)(12.1,0.614)(12.07,0.096)(12.12,0.084)(12.07,0.261)(12.1,0.253)(12.09,0.956)(12.1,0.679)(12.18,0.687)(12.14,0.799)(12.18,0.787)(12.14,0.317)(12.19,0.329)(12.25,0.309)(12.18,0.173)(12.23,0.181)(12.18,0.43)(12.23,0.422)(12.21,0.888)(12.25,0.876)(12.23,0.566)(12.28,0.558)(12.25,0.221)(12.3,0.229)(12.25,0.751)(12.3,0.743)(12.28,0.92)(12.33,0.912)(12.28,0.63)(12.33,0.639)(12.28,0.1)(12.33,0.092)(12.32,0.373)(12.38,0.365)(12.33,0.847)(12.39,0.855)(12.45,0.839)(12.35,0.518)(12.4,0.51)(12.46,0.502)(12.38,0.285)(12.43,0.273)(12.39,0.454)(12.45,0.458)(12.39,0.956)(12.46,0.96)(12.53,0.952)(12.4,0.703)(12.46,0.695)(12.43,0.149)(12.47,0.141)(12.45,0.06)(12.5,0.048)(12.46,0.791)(12.52,0.783)(12.47,0.598)(12.53,0.582)(12.5,0.341)(12.55,0.349)(12.5,0.205)(12.55,0.197)(12.53,0.896)(12.59,0.888)(12.64,0.9)(12.53,0.414)(12.59,0.406)(12.55,0.253)(12.6,0.261)(12.57,0.55)(12.62,0.542)(12.59,0.743)(12.64,0.727)(12.6,0.655)(12.66,0.647)(12.6,0.108)(12.66,0.092)(12.62,0.478)(12.67,0.486)(12.64,0.309)(12.69,0.297)(12.66,0.823)(12.71,0.815)(12.67,0.165)(12.73,0.173)(12.69,0.044)(12.74,0.052)(12.71,0.606)(12.76,0.598)(12.73,0.932)(12.78,0.972)(12.85,0.968)(12.74,0.373)(12.8,0.382)(12.78,0.703)(12.83,0.691)(12.78,0.221)(12.83,0.229)(12.8,0.446)(12.87,0.442)(12.81,0.867)(12.87,0.863)(12.81,0.558)(12.87,0.55)(12.92,0.566)(12.83,0.125)(12.88,0.116)(12.85,0.771)(12.9,0.783)(12.85,0.63)(12.9,0.622)(12.85,0.27)(12.9,0.257)(12.88,0.036)(12.94,0.028)(12.92,0.502)(12.97,0.51)(12.94,0.912)(12.99,0.92)(13.03,0.928)(12.96,0.341)(13.01,0.333)(12.97,0.663)(13.03,0.671)(13,0.972)(13,0.197)(13.04,0.189)(13.01,0.076)(13.03,0.735)(13.08,0.727)(13.04,0.59)(13.1,0.582)(13.06,0.406)(13.11,0.414)(13.06,0.827)(13.11,0.819)(13.08,0.149)(13.13,0.157)(13.1,0.032)(13.11,0.301)(13.17,0.293)(13.13,0.478)(13.18,0.47)(13.15,0.783)(13.2,0.771)(13.17,0.221)(13.22,0.229)(13.2,0.972)(13.27,0.968)(13.2,0.639)(13.25,0.647)(13.22,0.534)(13.27,0.526)(13.24,0.896)(13.3,0.884)(13.24,0.108)(13.3,0.1)(13.27,0.365)(13.32,0.357)(13.3,0.703)(13.35,0.711)(13.31,0.052)(13.37,0.044)(13.35,0.574)(13.4,0.566)(13.35,0.253)(13.4,0.261)(13.37,0.799)(13.42,0.815)(13.38,0.948)(13.4,0.446)(13.45,0.438)(13.5,0.43)(13.42,0.157)(13.47,0.145)(13.44,0.867)(13.49,0.863)(13.45,0.518)(13.5,0.526)(13.56,0.534)(13.47,0.317)(13.52,0.309)(13.49,0.735)(13.54,0.727)(13.49,0.213)(13.54,0.221)(13.52,0.622)(13.58,0.614)(13.56,0.896)(13.63,0.888)(13.58,0.382)(13.63,0.39)(13.66,0.398)(13.59,0.068)(13.63,0.056)(13.63,0.269)(13.68,0.261)(13.66,0.695)(13.72,0.703)(13.68,0.912)(13.72,0.92)(13.7,0.815)(13.75,0.823)(13.72,0.189)(13.77,0.197)(13.73,0.582)(13.79,0.59)(13.75,0.494)(13.8,0.502)(13.77,0.116)(13.79,0.305)(13.84,0.297)(13.8,0.888)(13.88,0.888)(13.84,0.446)(13.84,0.1)(13.91,0.092)(13.98,0.084)(14.05,0.076)(13.88,0.799)(13.91,0.783)(13.91,0.679)(13.96,0.687)(14.02,0.695)(13.93,0.261)(13.95,0.213)(14,0.221)(13.96,0.622)(13.98,0.518)(14.02,0.526)(13.98,0.285)(14,0.863)(14.02,0.956)(14.02,0.06)(14.02,0.032)(14.05,0.655)(14.07,0.165)(14.09,0.972)(14.09,0.394)(14.09,0.486)(14.12,0.904)(14.17,0.92)(14.16,0.691)(14.16,0.526)(14.19,0.297)(14.23,0.285)(14.19,0.137)(14.19,0.12)(14.29,0.61)(14.29,0.518)(14.29,0.406)(14.29,0.482)(14.3,0.193)(14.34,0.801)(14.39,0.972)(14.39,0.231)(14.39,0.849)(14.41,0.775)(14.48,0.763)(14.43,0.169)(14.48,0.169)(14.48,0.711)(14.48,0.542)(14.5,0.534)(14.48,0.43)(14.48,0.394)(14.48,0.088)(14.48,0.048)(14.57,0.044)(14.57,0.213)(14.62,0.217)(14.58,0.482)(14.62,0.446)(14.69,0.361)(14.69,0.277)(14.69,0.558)(14.76,0.57)(14.72,0.506)(14.8,0.506)(14.78,0.94)(14.78,0.807)(14.78,0.643)(14.8,0.04)(14.88,0.438)(14.88,0.367)(14.99,0.892)(14.99,0.707)(14.99,0.516)(15.08,0.197)(15.19,0.683)(15.21,0.731)(15.29,0.815)(15.59,0.186)(15.68,0.703)(15.79,0.924)(16,0.297)(16.01,0.193)
(11.85,0.87)(11.95,0.80)(12.05,0.92)(12.15,0.86)(12.25,0.81)(12.35,0.90)(12.45,0.87)(12.55,0.94)(12.65,0.89)(12.75,0.83)(12.85,0.90)(12.95,0.86)(13.05,0.95)(13.15,0.88)(13.25,0.84)(13.35,0.92)
(11.85,0.70)(11.95,0.63)(12.05,0.76)(12.15,0.70)(12.25,0.65)(12.35,0.74)(12.45,0.68)(12.55,0.77)(12.65,0.71)(12.75,0.66)(12.85,0.73)(12.95,0.62)(13.05,0.69)(13.15,0.64)(13.25,0.75)(13.35,0.67)
(11.9,0.55)(12.0,0.47)(12.1,0.58)(12.2,0.52)(12.3,0.46)(12.4,0.56)(12.5,0.50)(12.6,0.61)(12.7,0.53)(12.8,0.48)(12.9,0.59)(13.0,0.54)(13.1,0.62)(13.2,0.50)(13.3,0.56)(13.45,0.48)
(11.95,0.35)(12.05,0.30)(12.15,0.38)(12.25,0.33)(12.35,0.40)(12.45,0.31)(12.55,0.37)(12.65,0.34)(12.75,0.29)(12.85,0.32)(12.95,0.36)(13.05,0.31)(13.2,0.34)
(11.9,0.21)(12.0,0.16)(12.1,0.25)(12.2,0.19)(12.3,0.13)(12.4,0.23)(12.5,0.17)(12.6,0.22)(12.7,0.14)(12.8,0.18)(12.9,0.24)(13.0,0.15)(13.1,0.20)(13.2,0.13)(13.3,0.18)(13.4,0.24)
(11.95,0.09)(12.05,0.05)(12.15,0.11)(12.25,0.07)(12.35,0.04)(12.45,0.10)(12.55,0.06)(12.65,0.12)(12.75,0.08)(12.85,0.05)(12.95,0.11)(13.05,0.07)(13.15,0.04)(13.25,0.09)(13.35,0.12)
(11.9,0.95)(12.0,0.86)(12.1,0.89)(12.2,0.95)(12.3,0.88)(12.4,0.92)(12.5,0.91)(12.6,0.86)(12.7,0.95)(12.8,0.88)(12.9,0.94)(13.0,0.89)(13.1,0.91)(13.2,0.86)(13.3,0.95)
(11.9,0.83)(12.0,0.75)(12.1,0.82)(12.2,0.78)(12.3,0.84)(12.4,0.78)(12.5,0.82)(12.6,0.79)(12.7,0.76)(12.8,0.81)(12.9,0.77)(13.0,0.80)(13.1,0.76)(13.2,0.81)(13.3,0.78)(13.4,0.84)
(11.92,0.67)(12.02,0.60)(12.12,0.65)(12.22,0.61)(12.32,0.69)(12.42,0.63)(12.52,0.66)(12.62,0.69)(12.72,0.63)(12.82,0.60)(12.92,0.69)(13.02,0.64)(13.12,0.67)(13.22,0.60)(13.32,0.63)
(11.92,0.50)(12.02,0.54)(12.12,0.47)(12.22,0.49)(12.32,0.55)(12.42,0.52)(12.52,0.48)(12.62,0.56)(12.72,0.50)(12.82,0.53)(12.92,0.47)(13.02,0.51)(13.12,0.55)(13.22,0.46)(13.32,0.52)
(11.92,0.30)(12.02,0.27)(12.12,0.34)(12.22,0.27)(12.32,0.31)(12.42,0.36)(12.52,0.29)(12.62,0.32)(12.72,0.36)(12.82,0.27)(12.92,0.29)(13.02,0.35)(13.12,0.27)(13.25,0.30)
(11.92,0.17)(12.02,0.22)(12.12,0.19)(12.22,0.14)(12.32,0.20)(12.42,0.16)(12.52,0.24)(12.62,0.19)(12.72,0.23)(12.82,0.15)(12.92,0.19)(13.02,0.23)(13.12,0.16)(13.22,0.20)(13.32,0.14)
(11.92,0.12)(12.02,0.09)(12.12,0.06)(12.22,0.12)(12.32,0.08)(12.42,0.04)(12.52,0.11)(12.62,0.08)(12.72,0.11)(12.82,0.08)(12.92,0.06)(13.02,0.12)(13.12,0.09)(13.22,0.06)(13.42,0.09)
};
\addplot[fit] coordinates {
(8,0.6691)(9,0.6161)(10,0.5602)(11,0.5027)(12,0.4452)(13,0.3891)(14,0.3358)(15,0.2864)(16,0.2416)(16.5,0.2210)
};
\rightcat{0.394}
\node[anchor=west, inner sep=0pt, font=\fontsize{8}{9}\selectfont, text=txt] at ([xshift=1.2pt]rel axis cs:1,0.697) {0};
\node[anchor=west, inner sep=0pt, font=\fontsize{8}{9}\selectfont, text=txt] at ([xshift=1.2pt]rel axis cs:1,0.197) {1};
\end{axis}
\end{tikzpicture}
\end{document}
